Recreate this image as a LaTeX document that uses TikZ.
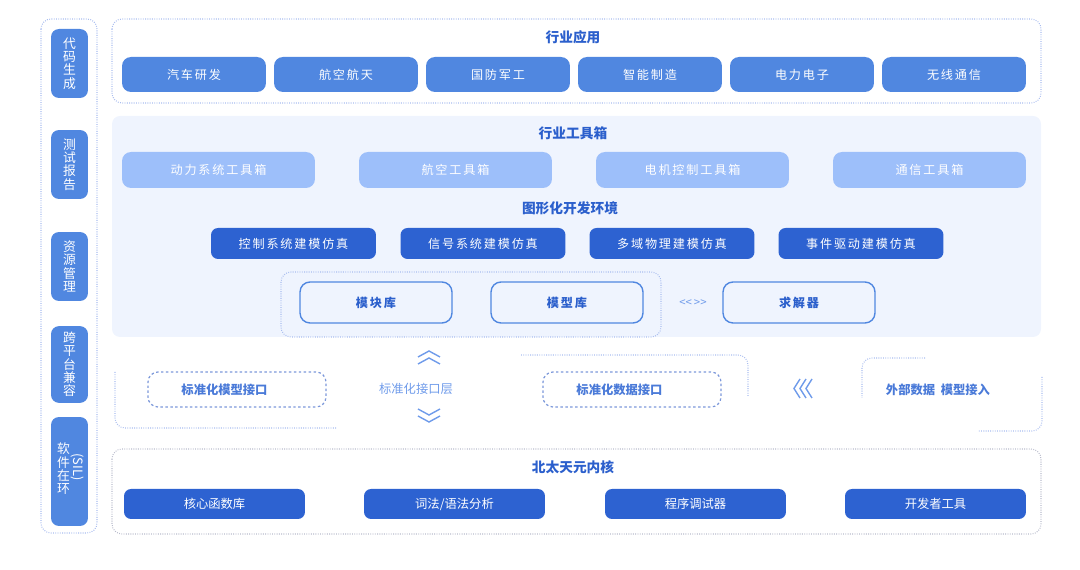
\documentclass[tikz,border=0pt]{standalone}
\usepackage{fontspec}
\newfontfamily\cjk{Noto Sans CJK SC}
\newfontfamily\cjksp[LetterSpace=15]{Noto Sans CJK SC}
\definecolor{midblue}{HTML}{5087E0}
\definecolor{lightbtn}{HTML}{9DBFFA}
\definecolor{darkblue}{HTML}{2D62D1}
\definecolor{bglight}{HTML}{EFF4FE}
\definecolor{titleblue}{HTML}{2B5FCC}
\definecolor{framedot}{HTML}{A9BDEF}
\definecolor{graydot}{HTML}{B9BCCC}
\definecolor{ifblue}{HTML}{4A7AD8}
\definecolor{dashblue}{HTML}{7C98DA}
\definecolor{chevblue}{HTML}{6F9BEA}
\tikzset{
  appbtn/.style={rectangle, rounded corners=0.18cm, fill=midblue, text=white,
    minimum width=2.88cm, minimum height=0.70cm, font=\cjksp\fontsize{6.9}{8}\selectfont},
  toolbtn/.style={rectangle, rounded corners=0.18cm, fill=lightbtn, text=white,
    minimum width=3.86cm, minimum height=0.72cm, font=\cjksp\fontsize{6.9}{8}\selectfont},
  envbtn/.style={rectangle, rounded corners=0.14cm, fill=darkblue, text=white,
    minimum width=3.30cm, minimum height=0.62cm, font=\cjksp\fontsize{6.9}{8}\selectfont},
  libbox/.style={rectangle, rounded corners=0.2cm, draw=midblue, line width=0.8pt,
    fill=bglight, text=titleblue, minimum width=3.04cm, minimum height=0.82cm,
    font=\cjksp\bfseries\fontsize{6.9}{8}\selectfont},
  corebtn/.style={rectangle, rounded corners=0.14cm, fill=darkblue, text=white,
    minimum width=3.62cm, minimum height=0.60cm, font=\cjk\fontsize{7}{8}\selectfont},
  sidebtn/.style={rectangle, rounded corners=0.16cm, fill=midblue, text=white,
    minimum width=0.74cm, minimum height=1.38cm, align=center,
    font=\cjk\fontsize{7.3}{7.6}\selectfont},
  sidetxt/.style={text=white, align=center, inner sep=0pt, font=\cjk\fontsize{7.3}{7.6}\selectfont},
  title/.style={text=titleblue, font=\cjk\bfseries\fontsize{7.8}{9}\selectfont},
  ifbox/.style={rectangle, rounded corners=0.2cm, draw=dashblue, line width=0.7pt,
    dash pattern=on 1.4pt off 1.4pt, text=ifblue, minimum width=3.56cm, minimum height=0.70cm,
    font=\cjk\bfseries\fontsize{7}{8}\selectfont},
  iftxt/.style={text=ifblue, font=\cjk\bfseries\fontsize{7}{8}\selectfont},
  frame/.style={draw=framedot, line width=0.6pt, dash pattern=on 0.5pt off 0.8pt, rounded corners=0.2cm},
  chev/.style={draw=chevblue, line width=0.8pt},
}
\begin{document}
\begin{tikzpicture}[x=0.02cm, y=-0.02cm]
\useasboundingbox (0,0) rectangle (1080,570);

% left column
\draw[frame] (41,19) rectangle (97,533);
\node[sidebtn] (code) at (69.5,63.5) {代\\码\\生\\成};
\node[sidebtn] (test) at (69.5,164.5) {测\\试\\报\\告};
\node[sidebtn] (res) at (69.5,266.5) {资\\源\\管\\理};
\node[sidebtn] (cross) at (69.5,364.5) {跨\\平\\台\\兼\\容};
\node[sidebtn, minimum height=2.18cm] (sil) at (69.5,471.5) {};
\node[sidetxt] (siltxt) at (63.5,469) {软\\件\\在\\环};
\node[sidetxt, rotate=-90] (silabbr) at (77,467) {(SIL)};

% industry applications
\draw[frame] (112,19) rectangle (1041,103);
\node[title] (apptitle) at (573,37) {行业应用};
\node[appbtn] (car) at (194,74.5) {汽车研发};
\node[appbtn] (aero) at (346,74.5) {航空航天};
\node[appbtn] (def) at (498,74.5) {国防军工};
\node[appbtn] (smart) at (650,74.5) {智能制造};
\node[appbtn] (power) at (802,74.5) {电力电子};
\node[appbtn] (wless) at (954,74.5) {无线通信};

% toolboxes and graphical environment
\fill[bglight, rounded corners=0.16cm] (112,116) rectangle (1041,337);
\node[title] (tooltitle) at (573,133) {行业工具箱};
\node[toolbtn] (tpower) at (218.5,170) {动力系统工具箱};
\node[toolbtn] (taero) at (455.5,170) {航空工具箱};
\node[toolbtn] (tmotor) at (692.5,170) {电机控制工具箱};
\node[toolbtn] (tcomm) at (929.5,170) {通信工具箱};
\node[title] (envtitle) at (570,208) {图形化开发环境};
\node[envbtn] (ctrl) at (293.5,243.5) {控制系统建模仿真};
\node[envbtn] (sig) at (483,243.5) {信号系统建模仿真};
\node[envbtn] (phys) at (672,243.5) {多域物理建模仿真};
\node[envbtn] (event) at (861,243.5) {事件驱动建模仿真};
\draw[frame] (281,272) rectangle (661,337);
\node[libbox] (blocks) at (376,302.5) {模块库};
\node[libbox] (models) at (567,302.5) {模型库};
\node[text=chevblue, font=\cjk\fontsize{6.5}{8}\selectfont] (swap) at (693,303) {<<\,>>};
\node[libbox] (solver) at (799,302.5) {求解器};

% standard interface layer
\draw[frame] (115,372) -- (115,428) -- (337,428);
\draw[frame] (521,355) -- (748,355) -- (748,396);
\draw[frame] (925,358) -- (862,358) -- (862,398);
\draw[frame] (1042,377) -- (1042,431) -- (978,431);
\node[ifbox] (mif) at (237,389.5) {标准化模型接口\kern0.5cm};
\node[ifbox] (dif) at (632,389.5) {标准化数据接口\kern0.5cm};
\node[text=chevblue, font=\cjk\fontsize{7}{8}\selectfont] (iflayer) at (416,389) {标准化接口层};
\draw[chev] (418,357) -- (429,351) -- (440,357);
\draw[chev] (418,364) -- (429,358) -- (440,364);
\draw[chev] (418,409) -- (429,415) -- (440,409);
\draw[chev] (418,416) -- (429,422) -- (440,416);
\draw[chev] (800,379) -- (794,388.5) -- (800,398);
\draw[chev] (806,379) -- (800,388.5) -- (806,398);
\draw[chev] (812,379) -- (806,388.5) -- (812,398);
\node[iftxt] (ext) at (938,390) {外部数据\ \ 模型接入};

% kernel
\draw[frame, draw=graydot] (112,449) rectangle (1041,534);
\node[title] (coretitle) at (573,467) {北太天元内核};
\node[corebtn] (lib) at (214.5,504) {核心函数库};
\node[corebtn] (parse) at (454.5,504) {词法/语法分析};
\node[corebtn] (debug) at (695.5,504) {程序调试器};
\node[corebtn] (dev) at (935.5,504) {开发者工具};
\end{tikzpicture}
\end{document}
